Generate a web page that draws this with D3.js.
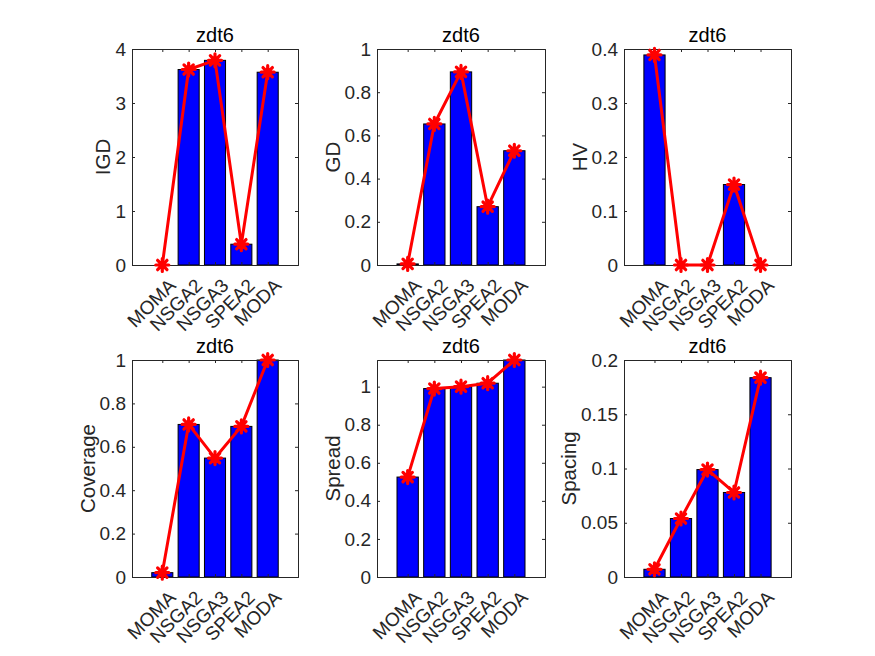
<!DOCTYPE html>
<html><head><meta charset="utf-8">
<script src="https://cdn.jsdelivr.net/npm/d3@7"></script>
<style>body{margin:0;background:#fff}svg{display:block}</style>
</head><body>
<script>
const categories = ["MOMA","NSGA2","NSGA3","SPEA2","MODA"];
const igd = [0, 3.62, 3.79, 0.385, 3.57];
const gd = [0.005, 0.653, 0.894, 0.27, 0.529];
const hv = [0.389, 0, 0, 0.149, 0];
const coverage = [0.02, 0.703, 0.548, 0.694, 1.0];
const spread = [0.525, 0.99, 1.0, 1.018, 1.14];
const spacing = [0.0071, 0.0539, 0.099, 0.0779, 0.1837];

const igdTicks = ["0","1","2","3","4"];
const gdTicks = ["0","0.2","0.4","0.6","0.8","1"];
const hvTicks = ["0","0.1","0.2","0.3","0.4"];
const coverageTicks = ["0","0.2","0.4","0.6","0.8","1"];
const spreadTicks = ["0","0.2","0.4","0.6","0.8","1"];
const spacingTicks = ["0","0.05","0.1","0.15","0.2"];

const yLimits = [[0,4],[0,1],[0,0.4],[0,1],[0,1.14],[0,0.2]];
const metricNames = ["IGD","GD","HV","Coverage","Spread","Spacing"];
const titleText = "zdt6";

const panels = [
  {values: igd, ticks: igdTicks},
  {values: gd, ticks: gdTicks},
  {values: hv, ticks: hvTicks},
  {values: coverage, ticks: coverageTicks},
  {values: spread, ticks: spreadTicks},
  {values: spacing, ticks: spacingTicks}
];

const W = 875, H = 656;
const colX = [[132,298],[377,545],[624,791]];
const rowY = [[49,265],[360,577]];
const axisCol = "#262626";
const font = "Arial, 'Liberation Sans', Helvetica, sans-serif";
const tickFS = "19px", titleFS = "20px", labelFS = "20.5px";

const svg = d3.select("body").append("svg").attr("width", W).attr("height", H);

panels.forEach((p, i) => {
  const c = i % 3, r = Math.floor(i / 3);
  const [x0, x1] = colX[c], [y0, y1] = rowY[r];
  const x = d3.scaleLinear().domain([-0.15, 6.15]).range([x0, x1]);
  const y = d3.scaleLinear().domain(yLimits[i]).range([y1, y0]);
  const g = svg.append("g");
  const idx = categories.map((d, k) => k + 1);
  const bw = x(0.8) - x(0);

  // bars
  g.selectAll("rect.bar").data(p.values).enter().append("rect")
    .attr("x", (d, k) => x(k + 1) - bw / 2)
    .attr("width", bw)
    .attr("y", d => y(d))
    .attr("height", d => y(0) - y(d))
    .attr("fill", "#0000ff")
    .attr("stroke", "#000")
    .attr("stroke-width", 1);

  // axes
  const yAxisL = d3.axisLeft(y).tickValues(p.ticks.map(Number)).tickSize(-3).tickPadding(6)
    .tickFormat((d, k) => p.ticks[k]);
  const yAxisR = d3.axisRight(y).tickValues(p.ticks.map(Number)).tickSize(-3).tickFormat("");
  const xAxisB = d3.axisBottom(x).tickValues(idx).tickSize(-3).tickFormat("");
  const xAxisT = d3.axisTop(x).tickValues(idx).tickSize(-3).tickFormat("");

  const gl = g.append("g").attr("transform", `translate(${x0},0)`).call(yAxisL);
  g.append("g").attr("transform", `translate(${x1},0)`).call(yAxisR);
  g.append("g").attr("transform", `translate(0,${y1})`).call(xAxisB);
  g.append("g").attr("transform", `translate(0,${y0})`).call(xAxisT);
  g.selectAll(".domain").attr("stroke", axisCol).attr("stroke-width", 1);
  g.selectAll(".tick line").attr("stroke", axisCol);
  gl.selectAll(".tick text").attr("fill", axisCol).style("font-family", font).style("font-size", tickFS);

  // rotated category labels
  g.selectAll("text.cat").data(categories).enter().append("text")
    .attr("class", "cat")
    .attr("transform", (d, k) => `translate(${x(k + 1) + 10},${y1 + 17}) rotate(-45)`)
    .attr("text-anchor", "end")
    .attr("dy", "0.35em")
    .attr("fill", axisCol)
    .style("font-family", font).style("font-size", tickFS)
    .text(d => d);

  // red line with star markers
  const line = d3.line().x((d, k) => x(k + 1)).y(d => y(d));
  g.append("path").datum(p.values).attr("d", line)
    .attr("fill", "none").attr("stroke", "#ff0000").attr("stroke-width", 3)
    .attr("stroke-linejoin", "round");
  const s = 6.5, s2 = s * 0.72;
  const star = `M${-s},0L${s},0M0,${-s}L0,${s}M${-s2},${-s2}L${s2},${s2}M${-s2},${s2}L${s2},${-s2}`;
  g.selectAll("path.mk").data(p.values).enter().append("path")
    .attr("d", star)
    .attr("transform", (d, k) => `translate(${x(k + 1)},${y(d)})`)
    .attr("stroke", "#ff0000").attr("stroke-width", 3.2).attr("fill", "none")
    .attr("stroke-linecap", "round");

  // title
  g.append("text").attr("x", (x0 + x1) / 2).attr("y", y0 - 7)
    .attr("text-anchor", "middle").attr("fill", "#000")
    .style("font-family", font).style("font-size", titleFS)
    .text(titleText);

  // y label
  const tickW = d3.max(gl.selectAll(".tick text").nodes(), n => n.getComputedTextLength());
  g.append("text")
    .attr("transform", `translate(${x0 - 6 - tickW - 5},${(y0 + y1) / 2}) rotate(-90)`)
    .attr("text-anchor", "middle").attr("fill", axisCol)
    .style("font-family", font).style("font-size", labelFS)
    .text(metricNames[i]);
});
</script>
</body></html>
